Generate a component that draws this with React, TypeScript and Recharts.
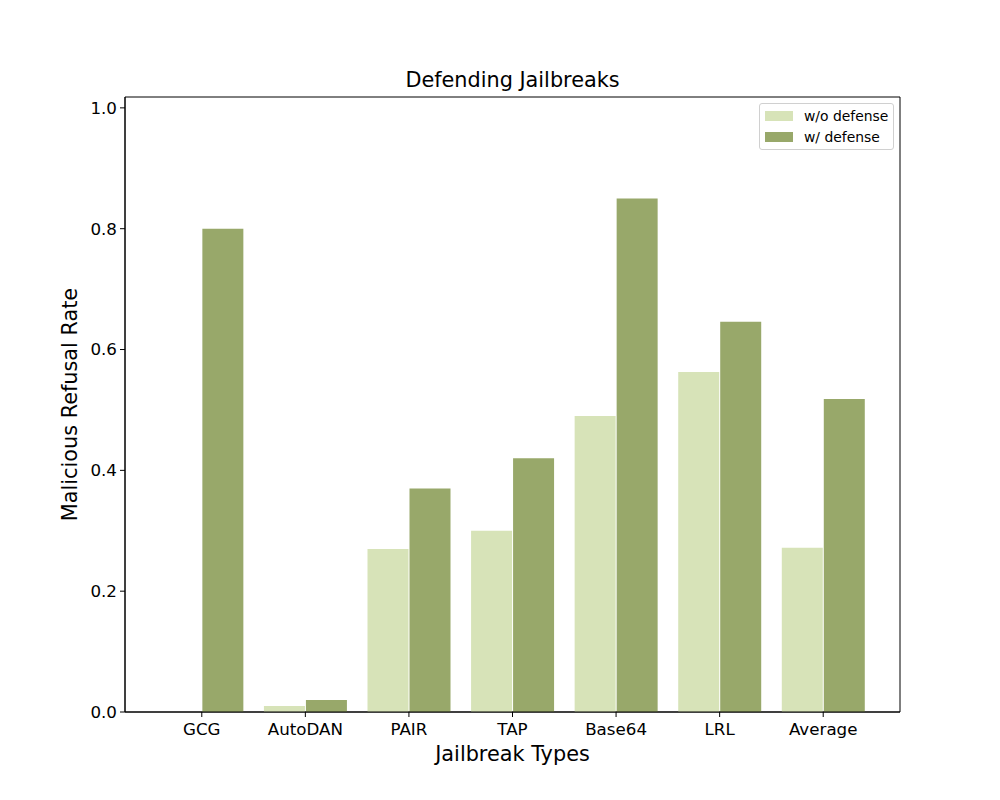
import React from "react";
import {
  Bar,
  BarChart,
  CartesianGrid,
  Legend,
  XAxis,
  YAxis,
} from "recharts";

const categories = ["GCG", "AutoDAN", "PAIR", "TAP", "Base64", "LRL", "Average"];
const withoutDefense = [0.0, 0.01, 0.27, 0.3, 0.49, 0.563, 0.272];
const withDefense = [0.8, 0.02, 0.37, 0.42, 0.85, 0.646, 0.518];
const yTicks = [0, 0.2, 0.4, 0.6, 0.8, 1.0];

const LIGHT = "#d7e3b8";
const DARK = "#98a86a";
const FONT = "DejaVu Sans, sans-serif";

const rows = categories.map((name, i) => ({
  name,
  wo: withoutDefense[i],
  w: withDefense[i],
}));

function LegendBox() {
  const items = [
    { label: "w/o defense", color: LIGHT },
    { label: "w/ defense", color: DARK },
  ];
  return (
    <div
      style={{
        border: "1px solid #d0d0d0",
        borderRadius: 3,
        background: "white",
        padding: "1px 5px 1px 5px",
        fontFamily: FONT,
        fontSize: 13.9,
        color: "#000",
      }}
    >
      {items.map((it) => (
        <div
          key={it.label}
          style={{ display: "flex", alignItems: "center", height: 21.5 }}
        >
          <span
            style={{
              display: "inline-block",
              width: 28,
              height: 10,
              background: it.color,
              marginRight: 11,
            }}
          />
          <span>{it.label}</span>
        </div>
      ))}
    </div>
  );
}

export default function App() {
  return (
    <div
      style={{
        position: "absolute",
        left: 0,
        top: 0,
        width: 1000,
        height: 800,
        background: "white",
      }}
    >
      <div
        style={{
          position: "absolute",
          top: 68,
          left: 125,
          width: 775,
          textAlign: "center",
          fontFamily: FONT,
          fontSize: 20.8,
          color: "#000",
        }}
      >
        Defending Jailbreaks
      </div>
      <BarChart
        width={1000}
        height={800}
        data={rows}
        margin={{ top: 97, right: 100, bottom: 28, left: 40 }}
        barCategoryGap="10%"
        barGap={1}
      >
        {/* full box frame like matplotlib spines */}
        <CartesianGrid
          stroke="#000"
          strokeWidth={1}
          horizontalCoordinatesGenerator={({ offset }: any) => [
            offset.top,
            offset.top + offset.height,
          ]}
          verticalCoordinatesGenerator={({ offset }: any) => [
            offset.left,
            offset.left + offset.width,
          ]}
        />
        <XAxis
          dataKey="name"
          padding={{ left: 25, right: 25 }}
          height={60}
          stroke="#000"
          tickLine={{ stroke: "#000" }}
          tickSize={5}
          tickMargin={6}
          tick={{ fontSize: 16.7, fontFamily: FONT, fill: "#000" }}
          label={({ viewBox }: any) => (
            <text
              x={viewBox.x + viewBox.width / 2}
              y={viewBox.y + 49}
              textAnchor="middle"
              fontSize={20.8}
              fontFamily={FONT}
              fill="#000"
            >
              Jailbreak Types
            </text>
          )}
        />
        <YAxis
          type="number"
          domain={[0, 1.018]}
          ticks={yTicks}
          allowDataOverflow
          width={85}
          stroke="#000"
          tickLine={{ stroke: "#000" }}
          tickSize={5}
          tickMargin={3}
          tickFormatter={(v: number) => v.toFixed(1)}
          tick={{ fontSize: 16.7, fontFamily: FONT, fill: "#000" }}
          label={({ viewBox }: any) => {
            const cx = viewBox.x + 30;
            const cy = viewBox.y + viewBox.height / 2;
            return (
              <text
                x={cx}
                y={cy}
                transform={`rotate(-90, ${cx}, ${cy})`}
                textAnchor="middle"
                dominantBaseline="central"
                fontSize={20.8}
                fontFamily={FONT}
                fill="#000"
              >
                Malicious Refusal Rate
              </text>
            );
          }}
        />
        <Legend
          layout="horizontal"
          verticalAlign="middle"
          align="center"
          wrapperStyle={{ top: 103, left: 759, width: "auto" }}
          content={() => <LegendBox />}
        />
        <Bar dataKey="wo" name="w/o defense" fill={LIGHT} isAnimationActive={false} />
        <Bar dataKey="w" name="w/ defense" fill={DARK} isAnimationActive={false} />
      </BarChart>
    </div>
  );
}
